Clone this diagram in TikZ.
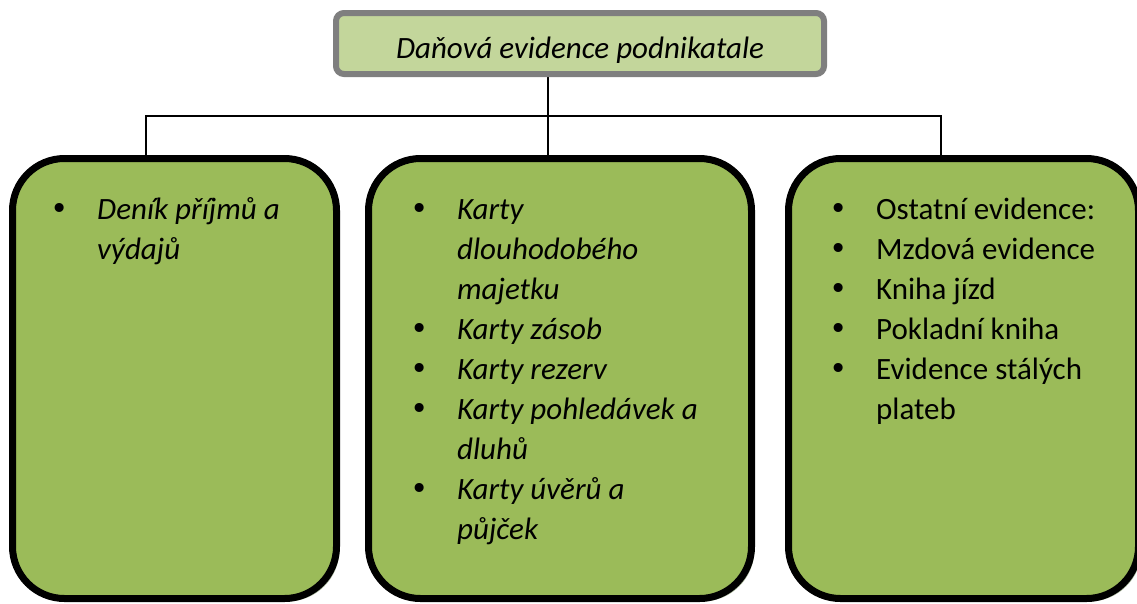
\documentclass[tikz,border=0pt]{standalone}
\usepackage{fontspec}
\setmainfont{Carlito}
\newfontfamily\dotfont{DejaVu Sans}
\usetikzlibrary{shadows,backgrounds}
\definecolor{boxgreen}{HTML}{9BBB59}
\definecolor{titlegreen}{HTML}{C3D69B}
\definecolor{titleedge}{HTML}{7F7F7F}
\definecolor{shadegreen}{HTML}{A3B295}
% hanging bullet placed to the left of the item text
\newcommand\itm{\makebox[0pt][r]{\makebox[47pt][l]{\dotfont •}}}
\tikzset{
  titlebox/.style={draw=titleedge, fill=titlegreen, line width=6pt,
    rounded corners=8pt, minimum width=488pt, minimum height=61pt,
    inner sep=0pt, font=\fontsize{31}{40}\selectfont\itshape},
  listbox/.style={draw=black, fill=boxgreen, line width=7pt,
    rounded corners=52pt, minimum height=440pt, inner sep=0pt,
    drop shadow={shadow xshift=3pt, shadow yshift=-3pt,
      fill=shadegreen, opacity=1}},
  listtext/.style={anchor=north west, align=left, inner sep=0pt,
    font=\fontsize{31}{40}\selectfont},
  link/.style={draw=black, line width=1.3pt},
}
\begin{document}
\begin{tikzpicture}[x=1pt,y=-1pt]
\useasboundingbox (0,0) rectangle (1137,603);

% title baseline sits low in the box
\node[titlebox] (title) at (580,43.5)
  {\raisebox{-15pt}[0pt][0pt]{Daňová evidence podnikatale}};

\node[listbox, minimum width=324pt] (left)  at (174.5,378.5) {};
\node[listbox, minimum width=383pt] (mid)   at (560,378.5) {};
\node[listbox, minimum width=350pt] (right) at (963.5,378.5) {};

\coordinate (hub) at (548,116);
\coordinate (jl)  at (146,116);
\coordinate (jr)  at (941,116);

\begin{scope}[on background layer]
  \draw[link] (title.south -| hub) -- (hub |- mid.north);
  \draw[link] (jl |- left.north) -- (jl) -- (jr) -- (jr |- right.north);
\end{scope}

% first baseline at y = 219 (strut height 28pt above it)
\node[listtext, font=\fontsize{31}{40}\selectfont\itshape] (leftlist) at (97,191)
  {\strut\itm Deník příjmů a\\ výdajů};
\node[listtext, font=\fontsize{31}{40}\selectfont\itshape] (midlist) at (457,191)
  {\strut\itm Karty\\ dlouhodobého\\ majetku\\ \itm Karty zásob\\ \itm Karty rezerv\\
   \itm Karty pohledávek a\\ dluhů\\ \itm Karty úvěrů a\\ půjček};
\node[listtext] (rightlist) at (876,191)
  {\strut\itm Ostatní evidence:\\ \itm Mzdová evidence\\ \itm Kniha jízd\\
   \itm Pokladní kniha\\ \itm Evidence stálých\\ plateb};
\end{tikzpicture}
\end{document}
